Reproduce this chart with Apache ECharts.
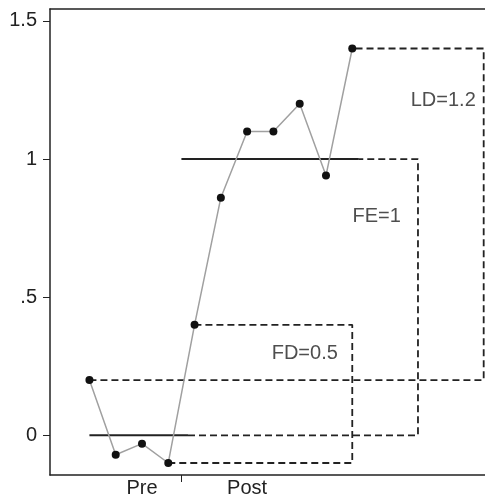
<!DOCTYPE html>
<html>
<head>
<meta charset="utf-8">
<script src="https://cdn.jsdelivr.net/npm/echarts@6/dist/echarts.min.js"></script>
<style>
  html, body { margin: 0; padding: 0; background: #fff; }
  #main { width: 485px; height: 498px; }
</style>
</head>
<body>
<div id="main"></div>
<script>
// session index and outcome
var sessions = [0, 1, 2, 3, 4, 5, 6, 7, 8, 9, 10];
var values = [0.2, -0.07, -0.03, -0.1, 0.4, 0.86, 1.1, 1.1, 1.2, 0.94, 1.4];

// phase axis
var phaseNames = ['Pre', 'Post'];
var phaseLabelAt = [2, 6];
var phaseBreak = [3.5];

// y axis ticks
var yTicks = [0, 0.5, 1, 1.5];

// phase means (solid)
var preMean = [[0, 0], [3.75, 0]];
var postMean = [[3.5, 1], [10.25, 1]];

// effect boxes (dashed)
var fdBox = [[3, -0.1], [10, -0.1], [10, 0.4], [4, 0.4]];
var feBox = [[3.75, 0], [12.5, 0], [12.5, 1], [10.25, 1]];
var ldBox = [[0, 0.2], [15, 0.2], [15, 1.4], [10, 1.4]];

// effect labels
var effectNames = ['FD=0.5', 'FE=1', 'LD=1.2'];
var effectAt = [[9.45, 0.295], [11.85, 0.793], [14.7, 1.213]];

var ink = '#222';
var font = 'Liberation Sans';

var myChart = echarts.init(document.getElementById('main'));

function dashed(data) {
    return {
        type: 'line', data: data, symbol: 'none', silent: true,
        lineStyle: { color: ink, width: 1.8, type: [7, 4] }
    };
}
function solid(data) {
    return {
        type: 'line', data: data, symbol: 'none', silent: true,
        lineStyle: { color: ink, width: 2, type: 'solid' }
    };
}

var option = {
    animation: false,
    backgroundColor: '#fff',
    grid: { left: 50, right: 0, top: 9, bottom: 18 },
    xAxis: [{
        type: 'value', min: -1.5, max: 15.05,
        splitLine: { show: false },
        axisLine: { show: true, onZero: false, lineStyle: { color: ink, width: 1.5 } },
        axisTick: { show: true, customValues: phaseBreak, length: 7, lineStyle: { color: ink, width: 1 } },
        axisLabel: {
            show: true, customValues: phaseLabelAt, margin: 3,
            color: ink, fontSize: 20, fontFamily: font,
            formatter: function (v) { return phaseNames[phaseLabelAt.indexOf(v)]; }
        }
    }, {
        // top frame line
        type: 'value', position: 'top', min: -1.5, max: 15.05,
        splitLine: { show: false },
        axisLine: { show: true, onZero: false, lineStyle: { color: ink, width: 1.5 } },
        axisTick: { show: false },
        axisLabel: { show: false }
    }],
    yAxis: {
        type: 'value', min: -0.1435, max: 1.543,
        splitLine: { show: false },
        axisLine: { show: true, onZero: false, lineStyle: { color: ink, width: 1.5 } },
        axisTick: { show: true, customValues: yTicks, length: 7, lineStyle: { color: ink, width: 1 } },
        axisLabel: {
            show: true, customValues: yTicks, margin: 13,
            color: ink, fontSize: 20, fontFamily: font,
            formatter: function (v) { return String(v).replace(/^0\./, '.'); }
        }
    },
    series: [
        dashed(fdBox),
        dashed(feBox),
        dashed(ldBox),
        solid(preMean),
        solid(postMean),
        {
            type: 'line',
            data: sessions.map(function (s, i) { return [s, values[i]]; }),
            symbol: 'circle', symbolSize: 8,
            itemStyle: { color: '#111' },
            lineStyle: { color: '#a0a0a0', width: 1.5 },
            z: 5
        },
        {
            type: 'scatter', symbolSize: 0, silent: true,
            data: effectAt.map(function (p, i) { return { value: p, name: effectNames[i] }; }),
            label: {
                show: true, position: 'left', distance: 0,
                formatter: '{b}', color: ink, fontSize: 20, fontFamily: font
            }
        }
    ]
};

myChart.setOption(option);
window.addEventListener('resize', function () {
    myChart.resize();
});
</script>
</body>
</html>
